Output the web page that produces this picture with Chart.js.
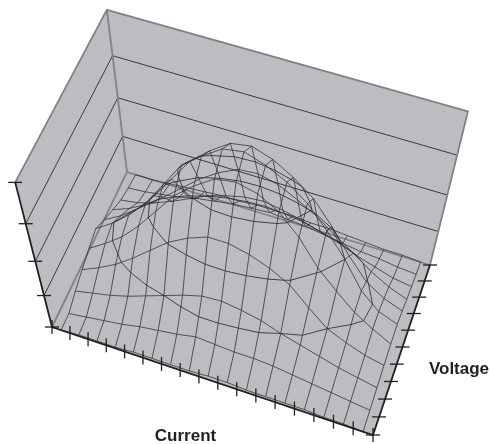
<!DOCTYPE html>
<html>
<head>
<meta charset="utf-8">
<style>
html,body{margin:0;padding:0;background:#fff}
canvas{display:block}
</style>
<script src="https://cdn.jsdelivr.net/npm/chart.js@4"></script>
</head>
<body>
<canvas id="c" width="490" height="444"></canvas>
<script>
// tick positions on the three axes
const currentTicks=[0,1,2,3,4,5,6,7,8,9,10,11,12,13,14,15,16,17];
const voltageTicks=[0,1,2,3,4,5,6,7,8,9,10];
const levelTicks=[0,25,50,75,100];
// surface heights, one row per voltage (front to back), 17 current samples each
const v0=[0,1,1,1,2,2,2,2,3,3,2,2,2,2,1,1,0];
const v1=[0,2,4,6,9,11,13,16,15,14,14,13,11,9,7,5,3];
const v2=[5,8,11,15,20,25,30,34,35,33,30,25,21,17,13,10,7];
const v3=[9,15,22,31,41,51,58,63,63,60,55,48,36,25,19,14,11];
const v4=[13,21,30,42,56,70,80,88,90,87,80,68,52,40,29,21,14];
const v5=[16,24,34,46,62,78,87,95,97,93,87,78,65,50,32,21,16];
const v6=[11,18,27,40,55,70,80,88,90,86,79,70,56,40,26,18,13];
const v7=[7,12,19,28,38,48,56,62,63,60,54,47,38,30,21,14,9];
const v8=[3,5,9,14,20,26,30,33,34,32,29,25,21,16,12,8,6];
const v9=[1,2,4,6,9,11,13,14,15,14,13,11,9,7,6,4,3];
const v10=[0,0,1,2,3,4,4,5,5,5,4,4,3,2,1,1,0];
const heights=[v0,v1,v2,v3,v4,v5,v6,v7,v8,v9,v10];
const contourLevels=[25,50,75];

// camera: floor corners on the page, vanishing point of the height axis, perspective of height
const floorA=[52,327],floorB=[373,435],floorC=[430,265],floorD=[127,172];
const vanish=[236,1050];
const zPersp=-1/6;
const dx1=floorB[0]-floorC[0],dx2=floorD[0]-floorC[0],sx=floorA[0]-floorB[0]+floorC[0]-floorD[0];
const dy1=floorB[1]-floorC[1],dy2=floorD[1]-floorC[1],sy=floorA[1]-floorB[1]+floorC[1]-floorD[1];
const den=dx1*dy2-dx2*dy1;
const g=(sx*dy2-dx2*sy)/den,h=(dx1*sy-sx*dy1)/den;
function project(u,v,z){
  const w=g*u+h*v+1;
  const X=(floorB[0]-floorA[0]+g*floorB[0])*u+(floorD[0]-floorA[0]+h*floorD[0])*v+floorA[0];
  const Y=(floorB[1]-floorA[1]+g*floorB[1])*u+(floorD[1]-floorA[1]+h*floorD[1])*v+floorA[1];
  const k=zPersp*z/100;
  return {x:(X+k*vanish[0])/(w+k),y:(Y+k*vanish[1])/(w+k)};
}
const uOf=i=>(i+0.5)/17, vOf=j=>j/10;
const onCurrent=t=>project(t/17,0,0), onVoltage=t=>project(1,t/10,0), onLevel=t=>project(0,0,t);

function line(data,color,width,extra){
  return Object.assign({data,showLine:true,borderColor:color,borderWidth:width,pointRadius:0,tension:0,clip:false},extra||{});
}
const wallGrey='#808285', fillGrey='#bcbdc0', ink='#231f20', mesh='#2e2c2d';
const sets=[];
// backdrop
sets.push(line([project(0,0,0),project(0,0,100),project(0,1,100),project(1,1,100),project(1,1,0),project(1,0,0),project(0,0,0)],fillGrey,0,{fill:'shape',backgroundColor:fillGrey}));
// wall gridlines
levelTicks.slice(1,4).forEach(t=>{
  sets.push(line([project(0,0,t),project(0,1,t),project(1,1,t)],mesh,0.9));
});
// wall and floor frame
sets.push(line([project(0,0,100),project(0,1,100),project(1,1,100),project(1,1,0)],wallGrey,1.8));
sets.push(line([project(0,1,100),project(0,1,0)],wallGrey,1.8));
sets.push(line([project(0,0,0),project(0,1,0),project(1,1,0)],wallGrey,1.8));
// surface mesh
heights.forEach((row,j)=>{
  sets.push(line(row.map((z,i)=>project(uOf(i),vOf(j),z)),mesh,0.75));
});
v0.forEach((_,i)=>{
  sets.push(line(heights.map((row,j)=>project(uOf(i),vOf(j),row[i])),mesh,0.75));
});
// contour rings traced over the same grid
function contour(level){
  const pts=[];
  const cross=(a,b)=>(level-a)/(b-a);
  for(let j=0;j<heights.length-1;j++){
    for(let i=0;i<v0.length-1;i++){
      const a=heights[j][i],b=heights[j][i+1],c=heights[j+1][i+1],d=heights[j+1][i];
      const hits=[];
      if((a<level)!==(b<level))hits.push([i+cross(a,b),j,level]);
      if((b<level)!==(c<level))hits.push([i+1,j+cross(b,c),level]);
      if((d<level)!==(c<level))hits.push([i+cross(d,c),j+1,level]);
      if((a<level)!==(d<level))hits.push([i,j+cross(a,d),level]);
      for(let k=0;k+1<hits.length;k+=2){
        pts.push(project(uOf(hits[k][0]),vOf(hits[k][1]),level));
        pts.push(project(uOf(hits[k+1][0]),vOf(hits[k+1][1]),level));
        pts.push({x:NaN,y:NaN});
      }
    }
  }
  return pts;
}
contourLevels.forEach(l=>sets.push(line(contour(l),mesh,0.85)));
// axes and ticks
sets.push(line([project(0,0,100),project(0,0,0),project(1,0,0),project(1,1,0)],ink,1.8));
function ticks(data,rot){
  return {data,showLine:false,pointStyle:'line',pointRadius:7,rotation:rot,borderColor:ink,borderWidth:1.3,clip:false};
}
sets.push(ticks(levelTicks.map(onLevel),0));
sets.push(ticks(voltageTicks.map(onVoltage),0));
sets.push(ticks(currentTicks.map(onCurrent),90));
sets.forEach((s,i)=>{s.order=-i;});

const axisTitles={
  id:'axisTitles',
  afterDraw(chart){
    const ctx=chart.ctx;
    ctx.save();
    ctx.font='bold 17px "Liberation Sans"';
    ctx.fillStyle=ink;
    ctx.textBaseline='middle';
    ctx.textAlign='center';
    ctx.fillText('Current',chart.scales.x.getPixelForValue(185.5),chart.scales.y.getPixelForValue(436));
    ctx.fillText('Voltage',chart.scales.x.getPixelForValue(459),chart.scales.y.getPixelForValue(369));
    ctx.restore();
  }
};
new Chart(document.getElementById('c'),{
  type:'scatter',
  data:{datasets:sets},
  plugins:[axisTitles],
  options:{
    responsive:false,animation:false,
    layout:{padding:0,autoPadding:false},
    plugins:{legend:{display:false},tooltip:{enabled:false},title:{display:false}},
    scales:{
      x:{type:'linear',min:0,max:490,display:false},
      y:{type:'linear',min:0,max:444,reverse:true,display:false}
    }
  }
});
</script>
</body>
</html>
